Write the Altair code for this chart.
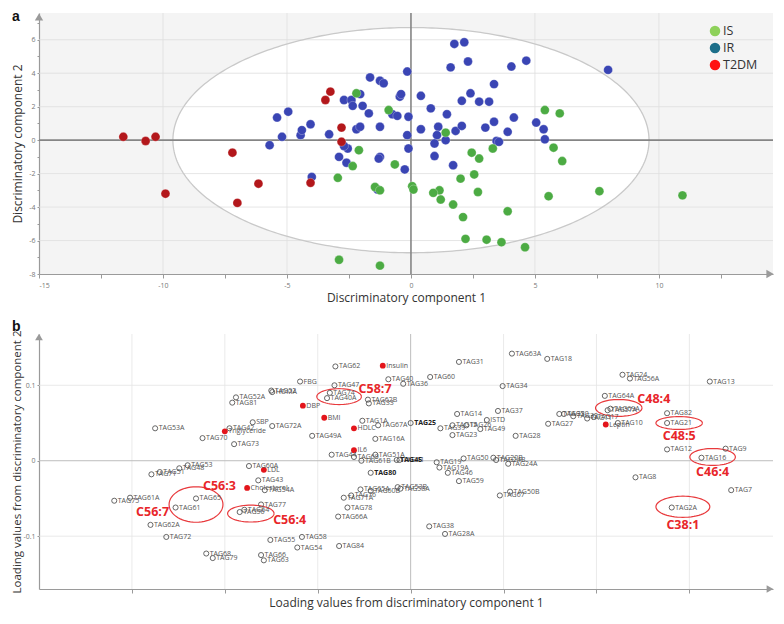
import altair as alt
import pandas as pd

# ---------------- Panel a: discriminant scores ----------------
ir_x = [-5.7, -5.4, -5.2, -4.95, -4.45, -4.4, -4.05, -4.0, -3.3, -2.9, -2.7, -2.4, -2.35, -2.55, -2.7,
        -2.6, -2.2, -2.05, -2.05, -1.95, -1.7, -1.65, -1.25, -1.1, -1.25, -1.25, -1.3, -1.35, -0.75, -0.55,
        -0.45, -0.4, -0.15, -0.15, -0.1, -0.25, -0.1, 1.75, 2.15, 1.6, 2.3, 4.05, 4.65, 7.95, 3.35,
        2.4, 2.05, 2.75, 3.15, 0.4, 0.8, 1.45, 1.1, 0.4, 1.05, 0.95, 1.4, 0.95, 1.8, 2.05,
        1.7, 3.0, 3.35, 4.15, 3.9, 3.45, 3.55, 5.05, 5.35, 5.4]
ir_y = [-0.3, 1.35, 0.2, 1.7, 0.3, 0.6, 0.95, -2.2, 0.35, -1.0, 2.4, 2.4, 2.05, -0.5, -0.35,
        -1.35, 0.65, 0.8, 2.75, 2.05, 1.6, 3.75, 3.55, 3.4, 0.8, -1.0, -1.1, -2.95, 1.55, 1.45,
        2.6, 2.75, 4.1, 0.3, -0.5, -1.75, 1.4, 5.75, 5.85, 4.35, 4.7, 4.4, 4.75, 4.2, 3.35,
        2.8, 2.35, 2.3, 2.3, 2.65, 1.9, 1.55, 0.8, 0.65, 0.3, -0.2, 0.0, -0.95, 0.55, 0.85,
        -1.5, 0.75, 1.1, 1.35, 0.5, -0.05, -0.1, 1.05, 0.65, 0.05]
is_x = [-2.9, -1.25, -2.95, -2.35, -2.1, -2.2, -1.45, -1.25, -0.9, -0.65, 5.4, 6.0, 5.75, 6.1, 5.55,
        7.6, 10.95, 3.9, 4.6, 3.65, 3.05, 2.2, 2.1, 1.7, 1.2, 1.15, 0.9, 2.0, 2.55, 2.7,
        2.45, 2.75, 3.3, 1.4, 0.05, 0.1]
is_y = [-7.15, -7.5, -2.25, -1.55, -0.6, 2.8, -2.8, -3.0, 1.8, -1.45, 1.8, 1.6, -0.45, -1.25, -3.35,
        -3.05, -3.3, -4.25, -6.4, -6.1, -5.95, -5.9, -4.6, -3.85, -3.55, -3.0, -3.15, -2.3, -2.05, -3.1,
        -0.75, -1.1, -0.5, 0.45, -2.75, -2.95]
t2_x = [-11.6, -10.7, -10.3, -9.9, -7.2, -7.0, -6.15, -4.05, -3.45, -3.25, -2.8, -2.8]
t2_y = [0.2, -0.05, 0.2, -3.2, -0.75, -3.75, -2.6, -2.55, 2.4, 2.9, 0.75, -0.1]

groups = ["IS", "IR", "T2DM"]
point_colors = ["#4cab43", "#3a45b4", "#b3171b"]
legend_colors = ["#8ed15a", "#1d6f8a", "#ff1212"]

ellipse_rx, ellipse_ry = 9.6, 6.73          # confidence ellipse semi-axes
xa_ticks = [-15, -12.5, -10, -7.5, -5, -2.5, 0, 2.5, 5, 7.5, 10, 12.5]
ya_ticks = [-8, -7, -6, -5, -4, -3, -2, -1, 0, 1, 2, 3, 4, 5, 6, 7]
xa_grid = [-10, -5, 5, 10]
ya_grid = [-6, -4, -2, 2, 4, 6]

# ---------------- Panel b: loadings ----------------
b_labels = ["TAG53A", "TAG70", "Triglyceride", "TAG42", "TAG73", "SBP", "TAG72A", "TAG52A", "TAG81", "TAG52",
            "HOMA", "FBG", "DBP", "TAG60A", "LDL", "TAG43", "Cholesterol", "TAG54A", "TAG77", "TAG64",
            "TAG56", "TAG65", "TAG61", "TAG61A", "TAG75", "TAG62A", "TAG72", "TAG68", "TAG79", "TAG66",
            "TAG63", "TAG55", "TAG53", "TAG48", "TAG51", "TAG71", "TAG62", "Insulin", "TAG40", "TAG36",
            "TAG60", "TAG31", "TAG63A", "TAG18", "TAG34", "TAG47", "TAG74", "TAG40A", "TAG62B", "TAG33",
            "BMI", "TAG1A", "TAG67A", "HDLC", "TAG25", "TAG49A", "TAG16A", "IL6", "TAG44", "TAG69",
            "TAG61B", "TAG51A", "TAG45", "TAG41", "TAG80", "TAG19", "TAG19A", "TAG46", "TAG59", "TAG50",
            "TAG20B", "TAG24B", "TAG24A", "TAG50B", "TAG67", "TAG38", "TAG28A", "TAG58", "TAG54", "TAG84",
            "TAG66A", "TAG78", "TAG71A", "TAG76", "TAG65A", "TAG60B", "TAG53B", "TAG58A", "TAG14", "TAG37",
            "ISTD", "TAG39", "TAG15", "TAG26", "TAG49", "TAG23", "TAG28", "TAG27", "TAG35", "TAG30",
            "TAG32", "TAG11", "TAG17", "Leptin", "TAG10", "TAG64A", "TAG69A", "TAG57A", "TAG24", "TAG56A",
            "TAG13", "TAG82", "TAG21", "TAG12", "TAG9", "TAG16", "TAG8", "TAG7", "TAG2A"]
b_x = [-0.275, -0.224, -0.200, -0.195, -0.190, -0.170, -0.149, -0.188, -0.192, -0.150,
       -0.149, -0.119, -0.116, -0.174, -0.158, -0.164, -0.176, -0.157, -0.161, -0.179,
       -0.184, -0.231, -0.253, -0.302, -0.319, -0.280, -0.263, -0.220, -0.213, -0.161,
       -0.158, -0.151, -0.240, -0.249, -0.270, -0.279, -0.081, -0.030, -0.024, -0.008,
       0.021, 0.052, 0.109, 0.147, 0.099, -0.082, -0.087, -0.090, -0.046, -0.045,
       -0.093, -0.052, -0.035, -0.061, 0.000, -0.106, -0.038, -0.061, -0.085, -0.061,
       -0.053, -0.038, -0.015, -0.012, -0.043, 0.028, 0.031, 0.040, 0.052, 0.057,
       0.089, 0.092, 0.105, 0.107, 0.096, 0.020, 0.037, -0.117, -0.122, -0.077,
       -0.078, -0.068, -0.072, -0.064, -0.054, -0.043, -0.014, -0.011, 0.050, 0.094,
       0.082, 0.032, 0.045, 0.060, 0.075, 0.045, 0.113, 0.148, 0.160, 0.165,
       0.175, 0.190, 0.197, 0.210, 0.223, 0.209, 0.215, 0.212, 0.228, 0.236,
       0.322, 0.276, 0.276, 0.276, 0.339, 0.313, 0.242, 0.345, 0.281]
b_y = [0.043, 0.030, 0.039, 0.043, 0.022, 0.051, 0.046, 0.084, 0.077, 0.093,
       0.091, 0.105, 0.073, -0.007, -0.012, -0.026, -0.036, -0.039, -0.058, -0.065,
       -0.068, -0.050, -0.062, -0.049, -0.053, -0.085, -0.101, -0.123, -0.129, -0.125,
       -0.132, -0.105, -0.006, -0.010, -0.015, -0.018, 0.125, 0.126, 0.108, 0.102,
       0.111, 0.131, 0.142, 0.135, 0.099, 0.100, 0.090, 0.083, 0.081, 0.076,
       0.057, 0.053, 0.047, 0.043, 0.050, 0.033, 0.029, 0.014, 0.008, 0.005,
       0.000, 0.008, 0.001, 0.001, -0.016, -0.002, -0.009, -0.016, -0.027, 0.003,
       0.004, 0.001, -0.004, -0.041, -0.046, -0.087, -0.097, -0.101, -0.115, -0.113,
       -0.074, -0.062, -0.049, -0.046, -0.038, -0.040, -0.035, -0.037, 0.062, 0.066,
       0.054, 0.043, 0.047, 0.047, 0.042, 0.034, 0.033, 0.049, 0.062, 0.062,
       0.059, 0.056, 0.058, 0.048, 0.050, 0.086, 0.069, 0.067, 0.114, 0.109,
       0.105, 0.063, 0.050, 0.015, 0.016, 0.004, -0.022, -0.039, -0.062]
clinical_vars = ["Triglyceride", "DBP", "LDL", "Cholesterol", "Insulin", "BMI", "HDLC", "IL6", "Leptin"]
bold_labels = ["TAG25", "TAG80", "TAG45"]

ring_names = ["C58:7", "C56:7", "C56:4", "C48:4", "C48:5", "C46:4", "C38:1"]
ring_cx = [-0.077, -0.231, -0.172, 0.224, 0.289, 0.325, 0.293]
ring_cy = [0.085, -0.058, -0.070, 0.070, 0.050, 0.005, -0.061]
ring_rx = [0.024, 0.029, 0.025, 0.025, 0.025, 0.0245, 0.029]
ring_ry = [0.0105, 0.0235, 0.0112, 0.0112, 0.0085, 0.0112, 0.014]

note_text = ["C58:7", "C56:7", "C56:3", "C56:4", "C48:4", "C48:5", "C46:4", "C38:1"]
note_x = [-0.056, -0.260, -0.188, -0.148, 0.244, 0.289, 0.325, 0.293]
note_y = [0.0945, -0.068, -0.034, -0.078, 0.082, 0.033, -0.0146, -0.0846]
note_align = ["left", "right", "right", "left", "left", "center", "center", "center"]

xb_ticks = [-0.3, -0.2, -0.1, 0, 0.1, 0.2, 0.3]
yb_ticks = [-0.1, 0, 0.1]
xb_grid = [-0.3, -0.2, -0.1, 0.1, 0.2, 0.3]
yb_grid = [-0.1, 0.1]

FONT = "Open Sans"
AXIS_GREY = "#9a9a9a"

W = 734
HA = 261
HB = 255

# ================= Panel a =================
scores = pd.concat([
    pd.DataFrame({"x": ir_x, "y": ir_y, "g": "IR"}),
    pd.DataFrame({"x": is_x, "y": is_y, "g": "IS"}),
    pd.DataFrame({"x": t2_x, "y": t2_y, "g": "T2DM"}),
], ignore_index=True)

xa_dom = [-15, 14.6]
ya_dom = [-8, 7.6]
XA = alt.X("x:Q", scale=alt.Scale(domain=xa_dom, nice=False, zero=False),
           axis=alt.Axis(values=xa_ticks, labelExpr="datum.value % 5 == 0 ? '' + datum.value : ''",
                         grid=False, domainColor=AXIS_GREY, domainWidth=1.2, tickColor=AXIS_GREY,
                         tickSize=4, labelFontSize=7, labelColor="#777", labelPadding=3,
                         title="Discriminatory component 1", titleFontSize=12, titleFontWeight="normal",
                         titleColor="#333", titlePadding=4))
YA = alt.Y("y:Q", scale=alt.Scale(domain=ya_dom, nice=False, zero=False),
           axis=alt.Axis(values=ya_ticks, labelExpr="datum.value % 2 == 0 ? '' + datum.value : ''",
                         grid=False, domainColor=AXIS_GREY, domainWidth=1.2, tickColor=AXIS_GREY,
                         tickSize=2, labelFontSize=7, labelColor="#777", labelPadding=2,
                         title="Discriminatory component 2", titleFontSize=12, titleFontWeight="normal",
                         titleColor="#333", titlePadding=4))

ell_fill = alt.Chart(alt.sequence(0, 181, 1, as_="deg")).transform_calculate(
    x=f"{ellipse_rx} * cos(datum.deg * PI / 180)",
    y=f"{ellipse_ry} * sin(datum.deg * PI / 180)",
    y2=f"-{ellipse_ry} * sin(datum.deg * PI / 180)",
).mark_area(color="white", opacity=1).encode(x=XA, y=YA, y2=alt.Y2("y2:Q"))

ell_line = alt.Chart(alt.sequence(0, 361, 1, as_="deg")).transform_calculate(
    x=f"{ellipse_rx} * cos(datum.deg * PI / 180)",
    y=f"{ellipse_ry} * sin(datum.deg * PI / 180)",
).mark_line(color="#c9c9c9", strokeWidth=1.3).encode(x=XA, y=YA, order="deg:Q")

grid_va = alt.Chart(pd.DataFrame({"x": xa_grid})).mark_rule(color="#dedede", strokeWidth=0.8).encode(x=XA)
grid_ha = alt.Chart(pd.DataFrame({"y": ya_grid})).mark_rule(color="#dedede", strokeWidth=0.8).encode(y=YA)
zero_va = alt.Chart(pd.DataFrame({"x": [0]})).mark_rule(color="#858585", strokeWidth=1.6).encode(x=XA)
zero_ha = alt.Chart(pd.DataFrame({"y": [0]})).mark_rule(color="#858585", strokeWidth=1.6).encode(y=YA)

pts_a = alt.Chart(scores).mark_circle(size=80, opacity=1, stroke="white", strokeWidth=0.8,
                                      strokeOpacity=0.35).encode(
    x=XA, y=YA,
    color=alt.Color("g:N", scale=alt.Scale(domain=groups, range=point_colors), legend=None),
)

arrow_up_a = alt.Chart(pd.DataFrame({"x": [xa_dom[0]], "y": [ya_dom[1]]})).mark_point(
    shape="triangle-up", filled=True, color=AXIS_GREY, size=70, opacity=1, yOffset=4).encode(x=XA, y=YA)
arrow_rt_a = alt.Chart(pd.DataFrame({"x": [xa_dom[1]], "y": [ya_dom[0]]})).mark_point(
    shape="triangle-right", filled=True, color=AXIS_GREY, size=70, opacity=1, xOffset=-3).encode(x=XA, y=YA)

legend_layers = []
for i, (g, c) in enumerate(zip(groups, legend_colors)):
    ly = 18 + 17 * i
    legend_layers.append(alt.Chart(pd.DataFrame({"t": [g]})).mark_circle(
        size=110, color=c, opacity=1).encode(x=alt.value(676), y=alt.value(ly)))
    legend_layers.append(alt.Chart(pd.DataFrame({"t": [g]})).mark_text(
        align="left", baseline="middle", fontSize=12.5, color="#333", font=FONT).encode(
        x=alt.value(684), y=alt.value(ly), text="t:N"))

letter_a = alt.Chart(pd.DataFrame({"t": ["a"]})).mark_text(
    align="left", baseline="top", fontSize=14, fontWeight="bold", color="#111", font="Liberation Sans").encode(
    x=alt.value(-27), y=alt.value(-3), text="t:N")

panel_a = alt.layer(
    ell_fill, grid_va, grid_ha, ell_line, zero_va, zero_ha, pts_a, arrow_up_a, arrow_rt_a,
    *legend_layers, letter_a
).properties(width=W, height=HA, view=alt.ViewBackground(fill="#f4f4f4", stroke=None))

# ================= Panel b =================
loads = pd.DataFrame({"x": b_x, "y": b_y, "label": b_labels})
loads["kind"] = ["clinical" if l in clinical_vars else "lipid" for l in b_labels]
loads["bold"] = [l in bold_labels for l in b_labels]

xb_dom = [-0.4, 0.39]
yb_dom = [-0.17, 0.168]
XB = alt.X("x:Q", scale=alt.Scale(domain=xb_dom, nice=False, zero=False),
           axis=alt.Axis(values=xb_ticks, labels=False, grid=False, domainColor=AXIS_GREY, domainWidth=1.2,
                         tickColor=AXIS_GREY, tickSize=4,
                         title="Loading values from discriminatory component 1", titleFontSize=12,
                         titleFontWeight="normal", titleColor="#333", titlePadding=4))
YB = alt.Y("y:Q", scale=alt.Scale(domain=yb_dom, nice=False, zero=False),
           axis=alt.Axis(values=yb_ticks, labelExpr="'' + datum.value", grid=False, domainColor=AXIS_GREY,
                         domainWidth=1.2, tickColor=AXIS_GREY, tickSize=2, labelFontSize=7, labelColor="#777",
                         labelPadding=2, title="Loading values from discriminatory component 2",
                         titleFontSize=11.5, titleFontWeight="normal", titleColor="#333", titlePadding=0))

grid_vb = alt.Chart(pd.DataFrame({"x": xb_grid})).mark_rule(color="#e4e4e4", strokeWidth=0.8).encode(x=XB)
grid_hb = alt.Chart(pd.DataFrame({"y": yb_grid})).mark_rule(color="#e4e4e4", strokeWidth=0.8).encode(y=YB)
zero_vb = alt.Chart(pd.DataFrame({"x": [0]})).mark_rule(color="#bdbdbd", strokeWidth=1).encode(x=XB)
zero_hb = alt.Chart(pd.DataFrame({"y": [0]})).mark_rule(color="#bdbdbd", strokeWidth=1).encode(y=YB)

open_pts = alt.Chart(loads).transform_filter("datum.kind == 'lipid'").mark_point(
    shape="circle", filled=False, size=26, strokeWidth=0.9, stroke="#555", color="#555", opacity=1).encode(
    x=XB, y=YB)
red_pts = alt.Chart(loads).transform_filter("datum.kind == 'clinical'").mark_circle(
    size=34, color="#e3151b", opacity=1).encode(x=XB, y=YB)
lab_norm = alt.Chart(loads).transform_filter("!datum.bold").mark_text(
    align="left", baseline="middle", dx=3.5, fontSize=7, color="#555", font=FONT).encode(
    x=XB, y=YB, text="label:N")
lab_bold = alt.Chart(loads).transform_filter("datum.bold").mark_text(
    align="left", baseline="middle", dx=3.5, fontSize=7, fontWeight="bold", color="#222", font=FONT).encode(
    x=XB, y=YB, text="label:N")

rings = pd.DataFrame({"name": ring_names, "cx": ring_cx, "cy": ring_cy, "rx": ring_rx, "ry": ring_ry})
rings["deg"] = [list(range(0, 361, 6)) for _ in ring_names]
ring_lines = alt.Chart(rings).transform_flatten(["deg"]).transform_calculate(
    x="datum.cx + datum.rx * cos(datum.deg * PI / 180)",
    y="datum.cy + datum.ry * sin(datum.deg * PI / 180)",
).mark_line(color="#e8393c", strokeWidth=1.2).encode(x=XB, y=YB, detail="name:N", order="deg:Q")

notes = pd.DataFrame({"x": note_x, "y": note_y, "t": note_text, "al": note_align})
note_layers = []
for al in ["left", "right", "center"]:
    note_layers.append(alt.Chart(notes).transform_filter(f"datum.al == '{al}'").mark_text(
        align=al, baseline="middle", fontSize=12.5, fontWeight="bold", color="#e8262a", font=FONT).encode(
        x=XB, y=YB, text="t:N"))

arrow_up_b = alt.Chart(pd.DataFrame({"x": [xb_dom[0]], "y": [yb_dom[1]]})).mark_point(
    shape="triangle-up", filled=True, color=AXIS_GREY, size=60, opacity=1, yOffset=3).encode(x=XB, y=YB)
arrow_rt_b = alt.Chart(pd.DataFrame({"x": [xb_dom[1]], "y": [yb_dom[0]]})).mark_point(
    shape="triangle-right", filled=True, color=AXIS_GREY, size=60, opacity=1, xOffset=-3).encode(x=XB, y=YB)

letter_b = alt.Chart(pd.DataFrame({"t": ["b"]})).mark_text(
    align="left", baseline="top", fontSize=14, fontWeight="bold", color="#111", font="Liberation Sans").encode(
    x=alt.value(-27), y=alt.value(-14), text="t:N")

panel_b = alt.layer(
    grid_vb, grid_hb, zero_vb, zero_hb, ring_lines, open_pts, red_pts, lab_norm, lab_bold,
    *note_layers, arrow_up_b, arrow_rt_b, letter_b
).properties(width=W, height=HB, view=alt.ViewBackground(fill="white", stroke=None))

chart = alt.vconcat(panel_a, panel_b, spacing=60, bounds="flush").properties(
    padding={"left": 3, "top": 2, "right": 2, "bottom": 4}, background="white"
).configure(font=FONT).configure_view(stroke=None)

chart.save("out.html", embed_options={"renderer": "svg", "actions": False})
